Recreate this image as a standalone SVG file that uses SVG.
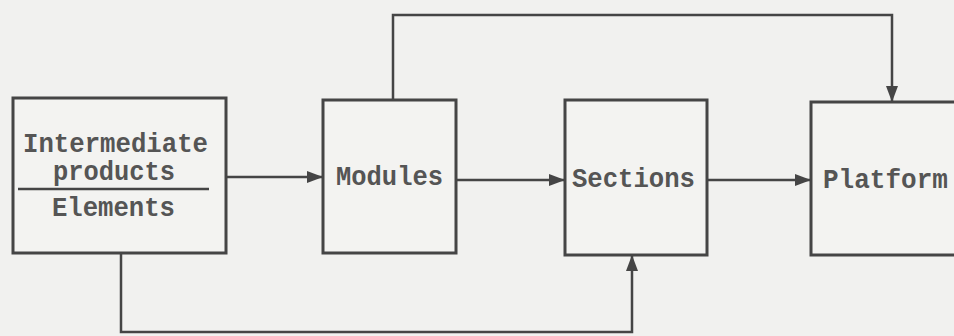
<svg xmlns="http://www.w3.org/2000/svg" width="954" height="336" viewBox="0 0 954 336">
<style>
.bg{fill:#f1f1ef}
.box{fill:#f3f3f1;stroke:#454545;stroke-width:3}
.ln{fill:none;stroke:#454545;stroke-width:2.5}
.t{font-family:"Liberation Mono","DejaVu Sans Mono",monospace;font-size:27px;font-weight:bold;fill:#555;lengthAdjust:spacingAndGlyphs}
</style>
<defs>
<marker id="ah" markerWidth="16" markerHeight="12" refX="15" refY="6" orient="auto" markerUnits="userSpaceOnUse">
<path d="M0,0 L16,6 L0,12 z" fill="#454545"/>
</marker>
</defs>
<rect class="bg" x="0" y="0" width="954" height="336"/>
<g id="connectors">
<line class="ln" x1="226" y1="177" x2="322" y2="177" marker-end="url(#ah)"/>
<line class="ln" x1="456" y1="180" x2="564" y2="180" marker-end="url(#ah)"/>
<line class="ln" x1="707" y1="180" x2="810" y2="180" marker-end="url(#ah)"/>
<polyline class="ln" points="393,100 393,15 892,15 892,101" marker-end="url(#ah)"/>
<polyline class="ln" points="121,253 121,332 632,332 632,256" marker-end="url(#ah)"/>
</g>
<g id="n1">
<rect class="box" x="13" y="98" width="213" height="155"/>
<text class="t" x="23" y="152" textLength="185" lengthAdjust="spacingAndGlyphs">Intermediate</text>
<text class="t" x="53" y="180" textLength="122" lengthAdjust="spacingAndGlyphs">products</text>
<line class="ln" x1="18" y1="189" x2="209" y2="189"/>
<text class="t" x="52" y="216" textLength="123" lengthAdjust="spacingAndGlyphs">Elements</text>
</g>
<g id="n2">
<rect class="box" x="323" y="100" width="133" height="153"/>
<text class="t" x="336" y="185" textLength="107" lengthAdjust="spacingAndGlyphs">Modules</text>
</g>
<g id="n3">
<rect class="box" x="565" y="100" width="142" height="155"/>
<text class="t" x="572" y="187" textLength="123" lengthAdjust="spacingAndGlyphs">Sections</text>
</g>
<g id="n4">
<rect class="box" x="811" y="102" width="160" height="153"/>
<text class="t" x="823" y="188" textLength="125" lengthAdjust="spacingAndGlyphs">Platform</text>
</g>
</svg>
